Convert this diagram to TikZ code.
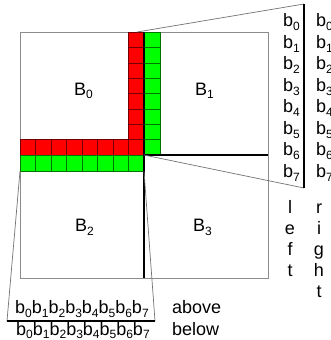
\documentclass[tikz,border=0pt]{standalone}
\usepackage{fontspec}
\setmainfont{Liberation Sans}
\newcommand\bsb[2]{#1\raisebox{-0.22em}{\fontsize{12}{12}\selectfont #2}}
\begin{document}
\begin{tikzpicture}[x=1pt,y=-1pt,
  lbl/.style={font=\fontsize{18}{21}\selectfont, inner sep=0pt},
  redcell/.style={fill=red, draw=red!45!black, line width=0.5pt},
  greencell/.style={fill=green, draw=green!45!black, line width=0.5pt},
  frame/.style={draw=black!45, line width=0.8pt},
  guide/.style={draw=black!55, line width=0.7pt},
  heavy/.style={draw=black, line width=2pt}]
\useasboundingbox (0,0) rectangle (331,340);
\fill[white] (0,0) rectangle (331,340);
% big square
\draw[frame] (20,32) rectangle (268,278);
% cells
\foreach \i in {0,...,7} {
  \draw[redcell] (128.5,{32+15.375*\i}) rectangle ++(15.5,15.375);
  \draw[greencell] (144,{32+15.375*\i}) rectangle ++(16,15.375);
  \draw[redcell] ({20+15.5*\i},139.6) rectangle ++(15.5,15.4);
  \draw[greencell] ({20+15.5*\i},155) rectangle ++(15.5,16);
}
% coordinates
\coordinate (ctop) at (144,32);
\coordinate (cbot) at (144,278);
\coordinate (cmid) at (144,155);
\coordinate (rmid) at (268,155);
\coordinate (ttop) at (137,32);
\coordinate (vtop) at (304,4);
\coordinate (vbot) at (304,188);
\coordinate (gl) at (20,171);
\coordinate (gr) at (144,171);
\coordinate (hl) at (7,321);
\coordinate (hr) at (155,321);
% dividing lines
\draw[heavy] (ctop) -- (cbot);
\draw[heavy] (cmid) -- (rmid);
% right trapezoid
\draw[guide] (ttop) -- (vtop);
\draw[guide] (cmid) -- (vbot);
\draw[heavy, line width=2.4pt] (vtop) -- (vbot);
% bottom trapezoid
\draw[guide] (gl) -- (hl);
\draw[guide] (gr) -- (hr);
\draw[heavy] (hl) -- (hr);
% block labels
\node[lbl, anchor=base west] (B0) at (74,95) {\bsb{B}{0}};
\node[lbl, anchor=base west] (B1) at (195,95) {\bsb{B}{1}};
\node[lbl, anchor=base west] (B2) at (75,231.5) {\bsb{B}{2}};
\node[lbl, anchor=base west] (B3) at (193,231.5) {\bsb{B}{3}};
% right column labels
\foreach \i in {0,...,7} {
  \node[lbl, anchor=base west] (Lb\i) at (283,{26.7+21.5*\i}) {\bsb{b}{\i}};
  \node[lbl, anchor=base west] (Rb\i) at (316,{26.7+21.5*\i}) {\bsb{b}{\i}};
}
\foreach \c [count=\i from 0] in {l,e,f,t}
  \node[lbl, anchor=base] (Lt\i) at (290,{213+21*\i}) {\c};
\foreach \c [count=\i from 0] in {r,i,g,h,t}
  \node[lbl, anchor=base] (Rt\i) at (319,{213+21*\i}) {\c};
% bottom labels
\node[lbl, anchor=base west] (above) at (15,313.5) {\bsb{b}{0}\bsb{b}{1}\bsb{b}{2}\bsb{b}{3}\bsb{b}{4}\bsb{b}{5}\bsb{b}{6}\bsb{b}{7}};
\node[lbl, anchor=base west] (below) at (16,335) {\bsb{b}{0}\bsb{b}{1}\bsb{b}{2}\bsb{b}{3}\bsb{b}{4}\bsb{b}{5}\bsb{b}{6}\bsb{b}{7}};
\node[lbl, anchor=base west] (abovew) at (172,313.5) {above};
\node[lbl, anchor=base west] (beloww) at (172,335) {below};
\end{tikzpicture}
\end{document}
